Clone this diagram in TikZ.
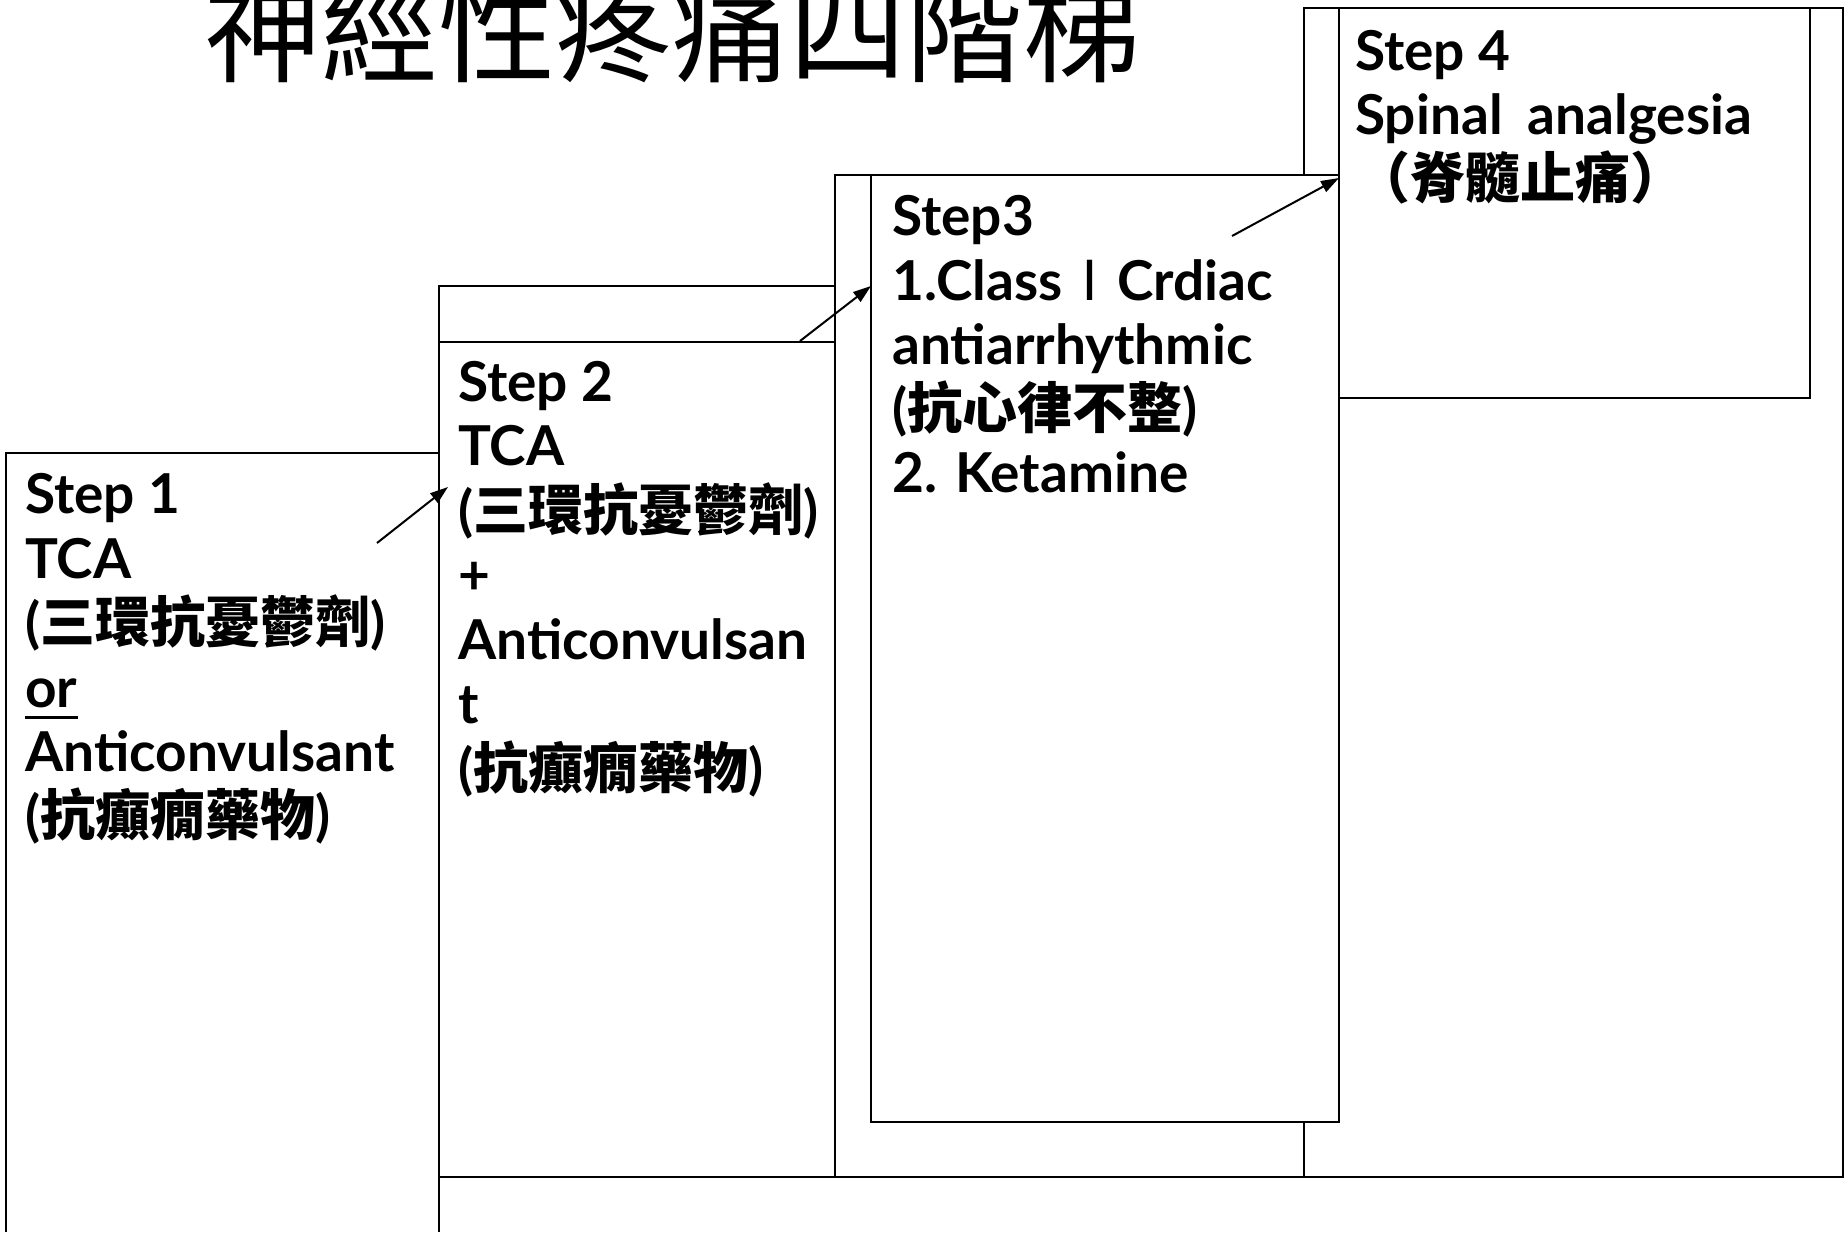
\documentclass[tikz,border=0pt]{standalone}
\usepackage{fontspec}
\setmainfont{Lato}
\newfontfamily\cjk{Noto Sans CJK TC}
\usetikzlibrary{arrows.meta}
\newcommand\zhb[1]{{\cjk\bfseries #1}}
\begin{document}
\begin{tikzpicture}[x=1pt,y=-1pt,
  edge/.style={line width=2pt, line join=miter},
  link/.style={line width=2pt, -{Triangle[length=18pt,width=12pt]}},
  txt/.style={anchor=base west, inner sep=0pt, font=\fontsize{55}{64}\selectfont\bfseries},
  titletxt/.style={anchor=base, inner sep=0pt, font=\cjk\fontsize{117}{120}\selectfont}]
\useasboundingbox[fill=white] (0,0) rectangle (1845,1232);

% stair outlines
\draw[edge] (6,1232) -- (6,453) -- (439,453);
\draw[edge] (439,1232) -- (439,286) -- (835,286);
\draw[edge] (439,342) -- (835,342);
\draw[edge] (835,1177) -- (835,175) -- (1339,175);
\draw[edge] (439,1177) -- (1843,1177) -- (1843,8) -- (1304,8) -- (1304,175);
\draw[edge] (1304,1122) -- (1304,1177);
\draw[edge] (871,175) -- (871,1122) -- (1339,1122) -- (1339,8);
\draw[edge] (1339,398) -- (1810,398) -- (1810,8);

% title
\node[titletxt] (title) at (672,73) {神經性疼痛四階梯};

% step 1
\node[txt] (s1a) at (25,513) {Step 1};
\node[txt] (s1b) at (25,578) {TCA};
\node[txt] (s1c) at (25,642) {(\zhb{三環抗憂鬱劑})};
\node[txt] (s1d) at (25,707) {or};
\node[txt] (s1e) at (25,771) {Anticonvulsant};
\node[txt] (s1f) at (25,835) {(\zhb{抗癲癇藥物})};
\draw[line width=3pt] ([yshift=-10pt]s1d.base west) -- ([yshift=-10pt]s1d.base east);

% step 2
\node[txt] (s2a) at (458,401) {Step 2};
\node[txt] (s2b) at (458,465) {TCA};
\node[txt] (s2c) at (458,530) {(\zhb{三環抗憂鬱劑})};
\node[txt] (s2d) at (458,594) {+};
\node[txt] (s2e) at (458,659) {Anticonvulsan};
\node[txt] (s2f) at (458,723) {t};
\node[txt] (s2g) at (458,788) {(\zhb{抗癲癇藥物})};

% step 3
\node[txt] (s3a) at (892,235) {Step3};
\node[txt] (s3b) at (892,300) {1.Class{\cjk\mdseries Ⅰ}Crdiac};
\node[txt] (s3c) at (892,364) {antiarrhythmic};
\node[txt] (s3d) at (892,428) {(\zhb{抗心律不整})};
\node[txt] (s3e) at (892,492) {2. Ketamine};

% step 4
\node[txt] (s4a) at (1355,70) {Step 4};
\node[txt] (s4b) at (1355,134) {Spinal\hspace{0.45em}analgesia};
\node[txt] (s4c) at (1355,198) {\zhb{（脊髓止痛）}};

% arrows
\coordinate (a1s) at (377,543);
\coordinate (a1e) at (448,487);
\coordinate (a2s) at (800,341);
\coordinate (a2e) at (871,286);
\coordinate (a3s) at (1232,236);
\coordinate (a3e) at (1339,178);
\draw[link] (a1s) -- (a1e);
\draw[link] (a2s) -- (a2e);
\draw[link] (a3s) -- (a3e);
\end{tikzpicture}
\end{document}
